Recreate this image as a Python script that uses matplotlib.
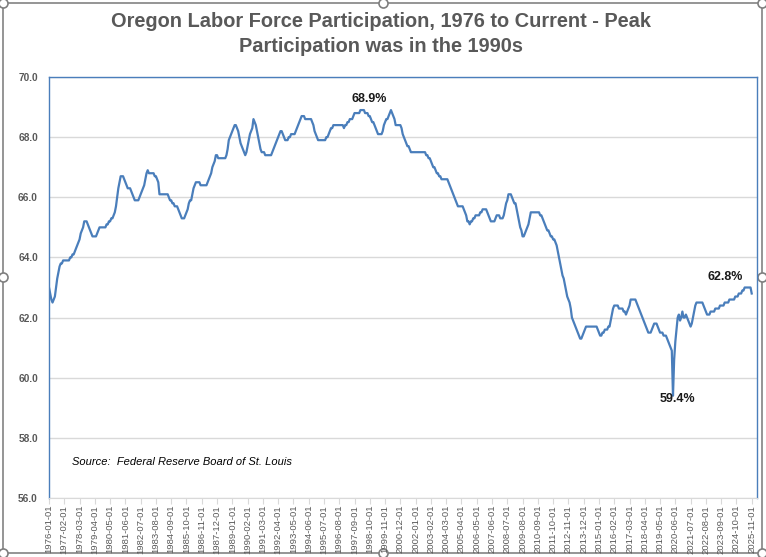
import numpy as np
import pandas as pd
from matplotlib import pyplot as plt

# Oregon labor force participation rate, monthly
lfpr_1976_1985 = [
    63.0, 62.8, 62.6, 62.5, 62.6, 62.7, 63.0, 63.3, 63.5, 63.7, 63.8, 63.8,
    63.9, 63.9, 63.9, 63.9, 63.9, 63.9, 64.0, 64.0, 64.1, 64.1, 64.2, 64.3,
    64.4, 64.5, 64.6, 64.8, 64.9, 65.0, 65.2, 65.2, 65.2, 65.1, 65.0, 64.9,
    64.8, 64.7, 64.7, 64.7, 64.7, 64.8, 64.9, 65.0, 65.0, 65.0, 65.0, 65.0,
    65.0, 65.1, 65.1, 65.2, 65.2, 65.3, 65.3, 65.4, 65.5, 65.7, 66.0, 66.3,
    66.5, 66.7, 66.7, 66.7, 66.6, 66.5, 66.4, 66.3, 66.3, 66.3, 66.2, 66.1,
    66.0, 65.9, 65.9, 65.9, 65.9, 66.0, 66.1, 66.2, 66.3, 66.4, 66.6, 66.8,
    66.9, 66.8, 66.8, 66.8, 66.8, 66.8, 66.7, 66.7, 66.6, 66.5, 66.1, 66.1,
    66.1, 66.1, 66.1, 66.1, 66.1, 66.1, 66.0, 65.9, 65.9, 65.8, 65.8, 65.7,
    65.7, 65.7, 65.6, 65.5, 65.4, 65.3, 65.3, 65.3, 65.4, 65.5, 65.6, 65.8,
]
lfpr_1986_1995 = [
    65.9, 65.9, 66.1, 66.3, 66.4, 66.5, 66.5, 66.5, 66.5, 66.4, 66.4, 66.4,
    66.4, 66.4, 66.4, 66.5, 66.6, 66.7, 66.8, 67.0, 67.1, 67.2, 67.4, 67.4,
    67.3, 67.3, 67.3, 67.3, 67.3, 67.3, 67.3, 67.4, 67.6, 67.9, 68.0, 68.1,
    68.2, 68.3, 68.4, 68.4, 68.3, 68.2, 68.0, 67.8, 67.7, 67.6, 67.5, 67.4,
    67.5, 67.7, 67.9, 68.1, 68.2, 68.3, 68.6, 68.5, 68.4, 68.2, 68.0, 67.8,
    67.6, 67.5, 67.5, 67.5, 67.4, 67.4, 67.4, 67.4, 67.4, 67.4, 67.5, 67.6,
    67.7, 67.8, 67.9, 68.0, 68.1, 68.2, 68.2, 68.1, 68.0, 67.9, 67.9, 67.9,
    68.0, 68.0, 68.1, 68.1, 68.1, 68.1, 68.2, 68.3, 68.4, 68.5, 68.6, 68.7,
    68.7, 68.7, 68.6, 68.6, 68.6, 68.6, 68.6, 68.6, 68.5, 68.4, 68.2, 68.1,
    68.0, 67.9, 67.9, 67.9, 67.9, 67.9, 67.9, 67.9, 68.0, 68.0, 68.1, 68.2,
]
lfpr_1996_2005 = [
    68.3, 68.3, 68.4, 68.4, 68.4, 68.4, 68.4, 68.4, 68.4, 68.4, 68.4, 68.3,
    68.4, 68.4, 68.5, 68.5, 68.6, 68.6, 68.6, 68.7, 68.8, 68.8, 68.8, 68.8,
    68.8, 68.9, 68.9, 68.9, 68.9, 68.8, 68.8, 68.8, 68.7, 68.7, 68.6, 68.5,
    68.5, 68.4, 68.3, 68.2, 68.1, 68.1, 68.1, 68.1, 68.2, 68.4, 68.5, 68.6,
    68.6, 68.7, 68.8, 68.9, 68.8, 68.7, 68.6, 68.4, 68.4, 68.4, 68.4, 68.4,
    68.3, 68.1, 68.0, 67.9, 67.8, 67.7, 67.7, 67.6, 67.5, 67.5, 67.5, 67.5,
    67.5, 67.5, 67.5, 67.5, 67.5, 67.5, 67.5, 67.5, 67.5, 67.4, 67.4, 67.3,
    67.3, 67.2, 67.1, 67.0, 67.0, 66.9, 66.8, 66.8, 66.7, 66.7, 66.6, 66.6,
    66.6, 66.6, 66.6, 66.6, 66.5, 66.4, 66.3, 66.2, 66.1, 66.0, 65.9, 65.8,
    65.7, 65.7, 65.7, 65.7, 65.7, 65.6, 65.5, 65.4, 65.2, 65.2, 65.1, 65.2,
]
lfpr_2006_2015 = [
    65.2, 65.3, 65.3, 65.4, 65.4, 65.4, 65.4, 65.5, 65.5, 65.6, 65.6, 65.6,
    65.6, 65.5, 65.4, 65.3, 65.2, 65.2, 65.2, 65.2, 65.3, 65.4, 65.4, 65.4,
    65.3, 65.3, 65.3, 65.4, 65.6, 65.8, 65.9, 66.1, 66.1, 66.1, 66.0, 65.9,
    65.8, 65.8, 65.6, 65.4, 65.2, 65.0, 64.9, 64.7, 64.7, 64.8, 64.9, 65.0,
    65.1, 65.3, 65.5, 65.5, 65.5, 65.5, 65.5, 65.5, 65.5, 65.5, 65.4, 65.4,
    65.3, 65.2, 65.1, 65.0, 64.9, 64.9, 64.8, 64.7, 64.7, 64.6, 64.6, 64.5,
    64.4, 64.2, 64.0, 63.8, 63.6, 63.4, 63.3, 63.1, 62.9, 62.7, 62.6, 62.5,
    62.3, 62.0, 61.9, 61.8, 61.7, 61.6, 61.5, 61.4, 61.3, 61.3, 61.4, 61.5,
    61.6, 61.7, 61.7, 61.7, 61.7, 61.7, 61.7, 61.7, 61.7, 61.7, 61.7, 61.6,
    61.5, 61.4, 61.4, 61.5, 61.5, 61.6, 61.6, 61.6, 61.7, 61.7, 61.9, 62.1,
]
lfpr_2016_2025 = [
    62.3, 62.4, 62.4, 62.4, 62.4, 62.3, 62.3, 62.3, 62.3, 62.2, 62.2, 62.1,
    62.2, 62.3, 62.4, 62.6, 62.6, 62.6, 62.6, 62.6, 62.5, 62.4, 62.3, 62.2,
    62.1, 62.0, 61.9, 61.8, 61.7, 61.6, 61.5, 61.5, 61.5, 61.6, 61.7, 61.8,
    61.8, 61.8, 61.7, 61.6, 61.5, 61.5, 61.5, 61.4, 61.4, 61.4, 61.3, 61.2,
    61.1, 61.0, 60.9, 59.4, 60.6, 61.2, 61.6, 62.0, 62.1, 61.9, 62.0, 62.2,
    62.0, 62.0, 62.1, 62.0, 61.9, 61.8, 61.7, 61.8, 62.0, 62.2, 62.4, 62.5,
    62.5, 62.5, 62.5, 62.5, 62.5, 62.4, 62.3, 62.2, 62.1, 62.1, 62.1, 62.2,
    62.2, 62.2, 62.2, 62.3, 62.3, 62.3, 62.3, 62.4, 62.4, 62.4, 62.4, 62.5,
    62.5, 62.5, 62.5, 62.6, 62.6, 62.6, 62.6, 62.6, 62.7, 62.7, 62.7, 62.8,
    62.8, 62.8, 62.9, 62.9, 63.0, 63.0, 63.0, 63.0, 63.0, 63.0, 62.8,
]

lfpr = np.array(lfpr_1976_1985 + lfpr_1986_1995 + lfpr_1996_2005
                + lfpr_2006_2015 + lfpr_2016_2025)
dates = pd.date_range("1976-01-01", periods=len(lfpr), freq="MS")
date_labels = [d.strftime("%Y-%m-%d") for d in dates]

title = "Oregon Labor Force Participation, 1976 to Current - Peak\nParticipation was in the 1990s"
source = "Source:  Federal Reserve Board of St. Louis"

plt.rcParams["font.family"] = ["Liberation Sans", "DejaVu Sans"]
gray = "#595959"
blue = "#4a7ebb"

W, H = 766, 557
fig = plt.figure(figsize=(W / 100, H / 100), dpi=100)

# outer chart frame with selection handles
frame = fig.add_axes([0, 0, 1, 1])
frame.set_xlim(0, W)
frame.set_ylim(H, 0)
frame.axis("off")
frame.plot([3, 762, 762, 3, 3], [3, 3, 553, 553, 3], color="#8c8c8c", lw=1.3)
hx = [3, 383, 762, 3, 762, 3, 383, 762]
hy = [3, 3, 3, 277, 277, 553, 553, 553]
frame.plot(hx, hy, "o", ms=6.5, mfc="white", mec="#7f7f7f", mew=1.2, zorder=5)

ax = fig.add_axes([49 / W, (H - 498) / H, 708 / W, 421 / H])
ax.set_facecolor("none")
x = np.arange(len(lfpr))
ax.plot(x, lfpr, color=blue, lw=1.6, solid_joinstyle="round")

ax.set_ylim(56, 70)
ax.set_xlim(0, 602.5)
ax.set_yticks(np.arange(56, 70.1, 2))
ax.set_yticklabels([f"{v:.1f}" for v in np.arange(56, 70.1, 2)])
ax.grid(axis="y", color="#d9d9d9", lw=1)
ax.set_axisbelow(True)

ticks = x[::13]
ax.set_xticks(ticks)
ax.set_xticklabels([date_labels[i] for i in ticks], rotation=90)
ax.tick_params(axis="x", labelsize=6.8, colors=gray, length=4, color="#d9d9d9", pad=1)
ax.tick_params(axis="y", labelsize=7.3, colors=gray, length=0, pad=8)
for lbl in ax.get_yticklabels():
    lbl.set_fontweight("bold")

for side in ["left", "top", "right"]:
    ax.spines[side].set_color(blue)
    ax.spines[side].set_linewidth(1)
ax.spines["bottom"].set_color("#d9d9d9")

frame.text(381, 34, title, ha="center", va="center", fontsize=14.4,
           fontweight="bold", color=gray, linespacing=1.35)

frame.text(72, 462, source, fontsize=8, style="italic", va="center", color="black")

imax = int(np.argmax(lfpr))
imin = int(np.argmin(lfpr))
ilast = len(lfpr) - 1
lab = dict(textcoords="offset points", ha="center", va="center",
           fontsize=9, fontweight="bold", color="#1a1a1a")
ax.annotate(f"{lfpr[imax]:.1f}%", (imax, lfpr[imax]), xytext=(6, 8), **lab)
ax.annotate(f"{lfpr[imin]:.1f}%", (imin, lfpr[imin]), xytext=(3, -2.5), **lab)
ax.annotate(f"{lfpr[ilast]:.1f}%", (ilast, lfpr[ilast]), xytext=(-19, 12), **lab)

fig.savefig("out.png", dpi=100)
